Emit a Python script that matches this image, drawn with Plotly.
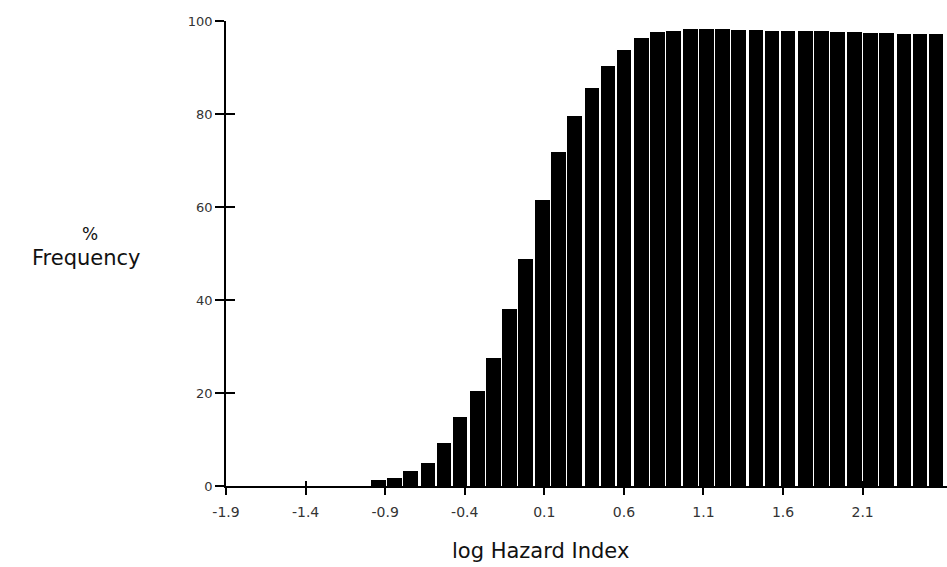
import plotly.graph_objects as go

# Cumulative % frequency per log Hazard Index bin (bin centres)
bin_centres = [-0.94, -0.84, -0.74, -0.63, -0.53, -0.43, -0.32, -0.22, -0.12, -0.02,
               0.09, 0.19, 0.29, 0.40, 0.50, 0.60, 0.71, 0.81, 0.91, 1.02,
               1.12, 1.22, 1.32, 1.43, 1.53, 1.63, 1.74, 1.84, 1.94, 2.05,
               2.15, 2.25, 2.36, 2.46, 2.56]
pct_frequency = [1.2, 1.7, 3.2, 4.9, 9.2, 14.8, 20.4, 27.5, 38.1, 48.8,
                 61.4, 71.8, 79.5, 85.7, 90.4, 93.8, 96.4, 97.6, 97.8, 98.3,
                 98.2, 98.2, 98.1, 98.0, 97.9, 97.8, 97.8, 97.8, 97.6, 97.6,
                 97.5, 97.5, 97.3, 97.3, 97.3]

x_tick_vals = [-1.9, -1.4, -0.9, -0.4, 0.1, 0.6, 1.1, 1.6, 2.1]
x_tick_text = ["-1.9", "-1.4", "-0.9", "-0.4", "0.1", "0.6", "1.1", "1.6", "2.1"]
y_tick_vals = [0, 20, 40, 60, 80, 100]

W, H = 947, 567
L, R, T, B = 226, 0, 21, 81

fig = go.Figure()
fig.add_trace(go.Bar(
    x=bin_centres, y=pct_frequency, width=0.092,
    marker=dict(color="black", line=dict(width=0)),
    showlegend=False, hoverinfo="x+y",
))
# invisible trace so the secondary axes (inward tick marks) are drawn
fig.add_trace(go.Scatter(x=[x_tick_vals[0]], y=[0], xaxis="x2", yaxis="y2",
                         mode="markers", marker=dict(opacity=0),
                         showlegend=False, hoverinfo="skip"))

x_tick_font = dict(family="DejaVu Sans", size=14, color="#333")
y_tick_font = dict(family="DejaVu Sans", size=13, color="#333")
x_range = [-1.9, 2.63]
y_range = [0, 100]

fig.update_layout(
    width=W, height=H,
    margin=dict(l=L, r=R, t=T, b=B),
    paper_bgcolor="white", plot_bgcolor="white",
    bargap=0,
    xaxis=dict(range=x_range, tickvals=x_tick_vals, ticktext=x_tick_text,
               ticks="outside", ticklen=7, tickwidth=1.5, tickcolor="black",
               ticklabelstandoff=5,
               showline=True, linecolor="black", linewidth=1.5,
               showgrid=False, zeroline=False, tickfont=x_tick_font),
    yaxis=dict(range=y_range, tickvals=y_tick_vals,
               ticks="outside", ticklen=9, tickwidth=1.5, tickcolor="black",
               showline=True, linecolor="black", linewidth=1.5,
               showgrid=False, zeroline=False, tickfont=y_tick_font),
    xaxis2=dict(range=x_range, overlaying="x", tickvals=x_tick_vals,
                ticks="inside", ticklen=5, tickwidth=1.5, tickcolor="black",
                showticklabels=False, showline=False, showgrid=False,
                zeroline=False),
    yaxis2=dict(range=y_range, overlaying="y", tickvals=y_tick_vals,
                ticks="inside", ticklen=9, tickwidth=1.5, tickcolor="black",
                showticklabels=False, showline=False, showgrid=False,
                zeroline=False),
)

pw, ph = W - L - R, H - T - B

def px_to_paper(px, py):
    return (px - L) / pw, (H - B - py) / ph

title_font = dict(family="DejaVu Sans", size=21, color="#111")

ax, ay = px_to_paper(540, 551)
fig.add_annotation(text="log Hazard Index", x=ax, y=ay, xref="paper", yref="paper",
                   showarrow=False, xanchor="center", yanchor="middle",
                   font=title_font)
ax, ay = px_to_paper(90, 234)
fig.add_annotation(text="%", x=ax, y=ay, xref="paper", yref="paper",
                   showarrow=False, xanchor="center", yanchor="middle",
                   font=dict(family="DejaVu Sans", size=17, color="#111"))
ax, ay = px_to_paper(86, 258)
fig.add_annotation(text="Frequency", x=ax, y=ay, xref="paper", yref="paper",
                   showarrow=False, xanchor="center", yanchor="middle",
                   font=dict(family="DejaVu Sans", size=21, color="#111"))

fig.write_html("out.html")
